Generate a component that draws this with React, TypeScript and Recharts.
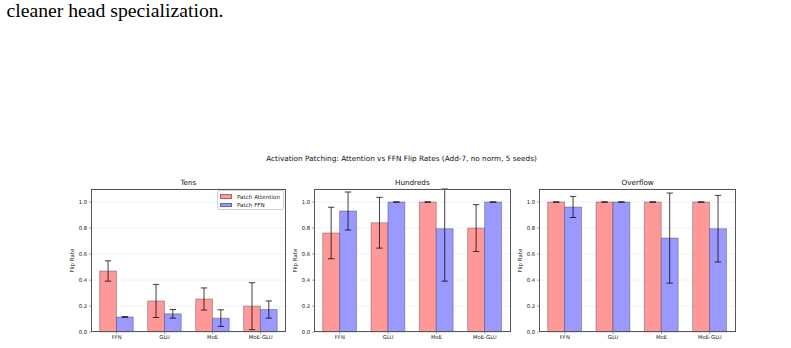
import { BarChart, Bar, XAxis, YAxis, CartesianGrid, ErrorBar, Legend } from 'recharts';

const categories = ['FFN', 'GLU', 'MoE', 'MoE-GLU'];
const yTicks = [0, 0.2, 0.4, 0.6, 0.8, 1.0];
const Y_MAX = 1.1;

// mean flip rate and std across seeds, per architecture
const tensAttn = [0.47, 0.24, 0.255, 0.2];
const tensAttnErr = [0.078, 0.127, 0.085, 0.18];
const tensFfn = [0.117, 0.141, 0.108, 0.174];
const tensFfnErr = [0.002, 0.033, 0.064, 0.066];

const hundredsAttn = [0.762, 0.841, 1.0, 0.8];
const hundredsAttnErr = [0.198, 0.195, 0, 0.18];
const hundredsFfn = [0.931, 1.0, 0.795, 1.0];
const hundredsFfnErr = [0.146, 0, 0.403, 0];

const overflowAttn = [1.0, 1.0, 1.0, 1.0];
const overflowAttnErr = [0, 0, 0, 0];
const overflowFfn = [0.962, 1.0, 0.723, 0.795];
const overflowFfnErr = [0.081, 0, 0.346, 0.256];

const FONT = '"DejaVu Sans", sans-serif';
const ATTN = '#ff9999';
const FFN = '#9999ff';
const SPINE = '#555';

const PLOT_TOP = 189.3;
const PLOT_H = 143.2;

type Row = { name: string; attn: number; attnErr: number; ffn: number; ffnErr: number };

function buildRows(attn: number[], attnErr: number[], ffn: number[], ffnErr: number[]): Row[] {
  return categories.map((name, i) => ({
    name,
    attn: attn[i],
    attnErr: attnErr[i],
    ffn: ffn[i],
    ffnErr: ffnErr[i],
  }));
}

// error bars are not clipped by recharts, so cut the upper whisker at the axis ceiling
const clippedErr = (valueKey: 'attn' | 'ffn', errKey: 'attnErr' | 'ffnErr') => (d: Row) => [
  d[errKey],
  Math.min(d[errKey], Y_MAX - d[valueKey]),
];

function LegendBox() {
  const row = (color: string, label: string) => (
    <div style={{ display: 'flex', alignItems: 'center', height: 8.2 }}>
      <div
        style={{
          width: 12,
          height: 4.5,
          background: color,
          border: '0.5px solid rgba(0,0,0,0.35)',
          boxSizing: 'border-box',
          marginLeft: 2.5,
          marginRight: 4.5,
        }}
      />
      <span style={{ fontSize: 5.6, color: '#222', whiteSpace: 'nowrap' }}>{label}</span>
    </div>
  );
  return (
    <div
      style={{
        width: 67,
        height: 20,
        boxSizing: 'border-box',
        border: '0.6px solid #d0d0d0',
        borderRadius: 2,
        background: 'rgba(255,255,255,0.8)',
        fontFamily: FONT,
        paddingTop: 1.6,
      }}
    >
      {row(ATTN, 'Patch Attention')}
      {row(FFN, 'Patch FFN')}
    </div>
  );
}

interface PanelProps {
  title: string;
  plotLeft: number;
  plotRight: number;
  rows: Row[];
  showLegend?: boolean;
}

function Panel({ title, plotLeft, plotRight, rows, showLegend }: PanelProps) {
  const plotW = plotRight - plotLeft;
  const unit = plotW / 4.07;
  const barSize = unit * 0.35;
  const pad = unit * 0.035;
  const mLeft = 10;
  const yAxisW = 30;
  const mTop = 5;
  const mRight = 5;
  const xAxisH = 15;
  const left = plotLeft - mLeft - yAxisW;
  const top = PLOT_TOP - mTop;
  const width = mLeft + yAxisW + plotW + mRight;
  const height = mTop + PLOT_H + xAxisH;
  const tickStyle = { fontSize: 5.3, fill: '#222', fontFamily: FONT };

  return (
    <>
      <div
        style={{
          position: 'absolute',
          left: plotLeft,
          width: plotW,
          top: 179.2,
          textAlign: 'center',
          fontSize: 7.2,
          fontFamily: FONT,
          color: '#111',
          lineHeight: '8px',
        }}
      >
        {title}
      </div>
      <div style={{ position: 'absolute', left, top }}>
        <BarChart
          width={width}
          height={height}
          data={rows}
          margin={{ top: mTop, right: mRight, left: mLeft, bottom: 0 }}
          barGap={0}
        >
          <CartesianGrid vertical={false} stroke="#000" strokeOpacity={0.07} strokeWidth={0.8} />
          <XAxis
            dataKey="name"
            height={xAxisH}
            padding={{ left: pad, right: pad }}
            tick={tickStyle}
            tickSize={1.9}
            tickMargin={1.5}
            tickLine={{ stroke: '#444', strokeWidth: 0.5 }}
            axisLine={false}
            interval={0}
          />
          <YAxis
            width={yAxisW}
            domain={[0, Y_MAX]}
            allowDataOverflow
            ticks={yTicks}
            tickFormatter={(v: number) => v.toFixed(1)}
            tick={tickStyle}
            tickSize={1.9}
            tickMargin={1.9}
            tickLine={{ stroke: '#444', strokeWidth: 0.5 }}
            axisLine={false}
            label={{
              value: 'Flip Rate',
              angle: -90,
              position: 'insideLeft',
              offset: 11.5,
              style: { textAnchor: 'middle', fontSize: 5.5, fill: '#222', fontFamily: FONT },
            }}
          />
          {showLegend && (
            <Legend
              layout="vertical"
              align="center"
              verticalAlign="middle"
              wrapperStyle={{ top: 5.7, right: 7, left: 'auto', width: 'auto' }}
              content={() => <LegendBox />}
            />
          )}
          <Bar
            dataKey="attn"
            name="Patch Attention"
            fill={ATTN}
            stroke="#000"
            strokeOpacity={0.35}
            strokeWidth={0.8}
            barSize={barSize}
            isAnimationActive={false}
          >
            <ErrorBar
              dataKey={clippedErr('attn', 'attnErr')}
              width={3.2}
              stroke="#000"
              strokeOpacity={0.75}
              strokeWidth={1}
            />
          </Bar>
          <Bar
            dataKey="ffn"
            name="Patch FFN"
            fill={FFN}
            stroke="#000"
            strokeOpacity={0.35}
            strokeWidth={0.8}
            barSize={barSize}
            isAnimationActive={false}
          >
            <ErrorBar
              dataKey={clippedErr('ffn', 'ffnErr')}
              width={3.2}
              stroke="#000"
              strokeOpacity={0.75}
              strokeWidth={1}
            />
          </Bar>
        </BarChart>
      </div>
      {/* axes frame */}
      <div
        style={{
          position: 'absolute',
          left: plotLeft,
          top: PLOT_TOP,
          width: plotW,
          height: PLOT_H,
          border: `0.8px solid ${SPINE}`,
          boxSizing: 'border-box',
          pointerEvents: 'none',
        }}
      />
    </>
  );
}

export default function App() {
  return (
    <div
      style={{
        position: 'fixed',
        left: 0,
        top: 0,
        width: 791,
        height: 348,
        background: '#fff',
        overflow: 'hidden',
      }}
    >
      <div
        style={{
          position: 'absolute',
          left: 6.5,
          top: -1.5,
          fontFamily: '"Liberation Serif", "Times New Roman", serif',
          fontSize: 19.7,
          lineHeight: '22px',
          color: '#000',
          whiteSpace: 'nowrap',
        }}
      >
        cleaner head specialization.
      </div>
      <div
        style={{
          position: 'absolute',
          left: 0,
          width: 803,
          top: 154.5,
          textAlign: 'center',
          fontSize: 7.3,
          fontFamily: FONT,
          color: '#111',
          lineHeight: '8px',
        }}
      >
        Activation Patching: Attention vs FFN Flip Rates (Add-7, no norm, 5 seeds)
      </div>
      <Panel
        title="Tens"
        plotLeft={90.7}
        plotRight={286}
        rows={buildRows(tensAttn, tensAttnErr, tensFfn, tensFfnErr)}
        showLegend
      />
      <Panel
        title="Hundreds"
        plotLeft={314}
        plotRight={510.7}
        rows={buildRows(hundredsAttn, hundredsAttnErr, hundredsFfn, hundredsFfnErr)}
      />
      <Panel
        title="Overflow"
        plotLeft={539.3}
        plotRight={736}
        rows={buildRows(overflowAttn, overflowAttnErr, overflowFfn, overflowFfnErr)}
      />
    </div>
  );
}
